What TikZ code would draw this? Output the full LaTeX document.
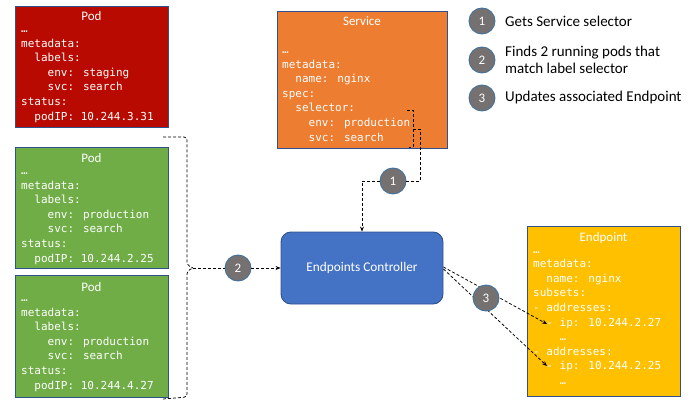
\documentclass[tikz,border=0pt]{standalone}
\usepackage{fontspec}
\setmainfont{Carlito}
\newfontfamily\codefont{DejaVu Sans Mono}
\usetikzlibrary{arrows.meta}
\definecolor{podred}{RGB}{184,10,0}
\definecolor{podgreen}{RGB}{112,173,71}
\definecolor{svcorange}{RGB}{237,125,49}
\definecolor{epyellow}{RGB}{255,192,0}
\definecolor{ctrlblue}{RGB}{68,114,196}
\definecolor{boxborder}{RGB}{47,82,143}
\definecolor{circgray}{RGB}{118,113,113}
\definecolor{circborder}{RGB}{65,113,156}
\newcommand\indA{\hphantom{xx}}
\newcommand\indB{\hphantom{xxxx}}
\begin{document}
\begin{tikzpicture}[x=1pt,y=-1pt,
  box/.style={draw=boxborder,line width=0.9pt,anchor=north west,inner sep=0pt},
  boxtitle/.style={anchor=base,text=white,font=\fontsize{13}{15}\selectfont,inner sep=0pt},
  body/.style={anchor=north west,text=white,align=left,inner sep=0pt,font=\codefont\fontsize{11}{14.6}\selectfont},
  num/.style={circle,fill=circgray,draw=circborder,line width=0.9pt,minimum size=26pt,inner sep=0pt,text=white,font=\fontsize{13}{15}\selectfont},
  legend/.style={anchor=west,align=left,inner sep=0pt,font=\fontsize{15}{17}\selectfont},
  conn/.style={draw=black,line width=0.75pt,dash pattern=on 3pt off 2pt},
  arr/.style={conn,-{Stealth[length=5pt,width=4pt]}}]
\useasboundingbox (0,0) rectangle (688,401);

% Pods
\node[box,fill=podred,minimum width=153pt,minimum height=121pt] (redpod) at (15,6) {};
\node[boxtitle] (redpodt) at (91.5,20.5) {Pod};
\node[body] (redpodb) at (21,22.1) {\strut …\\metadata:\\\indA labels:\\\indB env: staging\\\indB svc: search\\status:\\\indA podIP: 10.244.3.31};

\node[box,fill=podgreen,minimum width=153pt,minimum height=121pt] (gpod1) at (15,147) {};
\node[boxtitle] (gpod1t) at (91.5,162) {Pod};
\node[body] (gpod1b) at (21,164.1) {\strut …\\metadata:\\\indA labels:\\\indB env: production\\\indB svc: search\\status:\\\indA podIP: 10.244.2.25};

\node[box,fill=podgreen,minimum width=153pt,minimum height=122pt] (gpod2) at (15,275) {};
\node[boxtitle] (gpod2t) at (91.5,291) {Pod};
\node[body] (gpod2b) at (21,291.1) {\strut …\\metadata:\\\indA labels:\\\indB env: production\\\indB svc: search\\status:\\\indA podIP: 10.244.4.27};

% Service
\node[box,fill=svcorange,minimum width=170pt,minimum height=137pt] (svc) at (277,11) {};
\node[boxtitle] (svct) at (362,26) {Service};
\node[body] (svcb) at (282,43.1) {\strut …\\metadata:\\\indA name: nginx\\spec:\\\indA selector:\\\indB env: production\\\indB svc: search};

% Endpoint
\node[box,fill=epyellow,minimum width=153pt,minimum height=170pt] (ep) at (527,226) {};
\node[boxtitle] (ept) at (603.5,241) {Endpoint};
\node[body] (epb) at (533,242.6) {\strut …\\metadata:\\\indA name: nginx\\subsets:\\- addresses:\\\indA - ip: 10.244.2.27\\\indB …\\- addresses:\\\indA - ip: 10.244.2.25\\\indB …};

% Controller
\node[draw=boxborder,line width=0.9pt,fill=ctrlblue,rounded corners=10pt,minimum width=162pt,minimum height=72pt,text=white,font=\fontsize{13.3}{15}\selectfont] (ctrl) at (362,268) {Endpoints Controller};

% Legend
\node[num] (l1) at (482,21) {1};
\node[num] (l2) at (482,60) {2};
\node[num] (l3) at (482,98) {3};
\node[legend] (l1t) at (505,21) {Gets Service selector};
\node[legend] (l2t) at (505,60) {Finds 2 running pods that\\match label selector};
\node[legend] (l3t) at (505,98) {Updates associated Endpoint};

% Connector 1
\coordinate (sa) at (407,110);
\coordinate (sb) at (409,147);
\coordinate (sm) at (413,129);
\node[num] (c1) at (393,181) {1};
\draw[conn] (sa) -- (413,110) -- (413,147) -- (sb);
\draw[conn] (sm) -- (420,129) -- (420,181) -- (c1);
\draw[arr] (c1) -| (ctrl.north);

% Connector 2
\coordinate (bt) at (163,137);
\coordinate (bb) at (163,399);
\coordinate (btip) at (193,268);
\node[num] (c2) at (238,268) {2};
\draw[conn,rounded corners=3pt] (bt) -- (187,137) -- (187,265) -- (btip);
\draw[conn,rounded corners=3pt] (bb) -- (187,397) -- (187,271) -- (btip);
\draw[conn] (btip) -- (c2);
\draw[arr] (c2) -- (ctrl);

% Connector 3
\coordinate (ip1) at (547,324);
\coordinate (ip2) at (547,366);
\draw[arr] ([yshift=1pt]ctrl.east) -- (ip1);
\draw[arr] ([yshift=-1pt]ctrl.east) -- (ip2);
\node[num] (c3) at (486,298) {3};
\end{tikzpicture}
\end{document}
